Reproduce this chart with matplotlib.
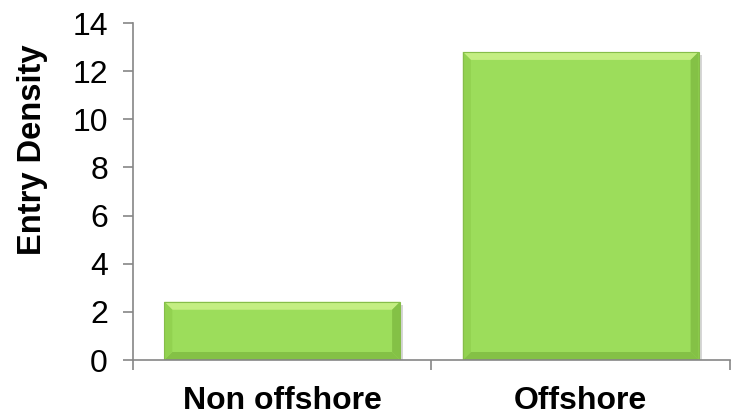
import matplotlib
matplotlib.use("Agg")
import matplotlib.pyplot as plt
from matplotlib.patches import Polygon, Rectangle

categories = ["Non offshore", "Offshore"]
values = [2.42, 12.8]
y_ticks = [0, 2, 4, 6, 8, 10, 12, 14]

plt.rcParams['font.family'] = ['Liberation Sans', 'DejaVu Sans']

fig = plt.figure(figsize=(7.36, 4.19), dpi=100)
ax = fig.add_axes([0.1807, 0.1408, 0.9918 - 0.1807, 0.945 - 0.1408])

n = len(categories)
ax.set_xlim(-0.5, n - 0.5)
ax.set_ylim(0, 14)

width = 0.79
main = "#9CDD5B"
light = "#C4EE82"
side = "#92D250"
dark = "#84C146"
edge = "#86BD4A"
shadow = "#D6D6D6"

fig.canvas.draw()
inv = ax.transData.inverted()
p0 = inv.transform((0, 0))
p1 = inv.transform((8, 8))
bx = p1[0] - p0[0]
by = p1[1] - p0[1]
p2 = inv.transform((3, 3))
sx = p2[0] - p0[0]
sy = p2[1] - p0[1]

for i, v in enumerate(values):
    x0 = i - width / 2
    x1 = i + width / 2
    ax.add_patch(Rectangle((x0 + sx, 0), width, v - sy, facecolor=shadow, edgecolor='none', zorder=1.5))
    ax.add_patch(Rectangle((x0, 0), width, v, facecolor=main, edgecolor='none', zorder=2))
    ax.add_patch(Polygon([(x0, v), (x1, v), (x1 - bx, v - by), (x0 + bx, v - by)],
                         closed=True, facecolor=light, edgecolor='none', zorder=3))
    ax.add_patch(Polygon([(x0, 0), (x1, 0), (x1 - bx, by), (x0 + bx, by)],
                         closed=True, facecolor=dark, edgecolor='none', zorder=3))
    ax.add_patch(Polygon([(x0, 0), (x0, v), (x0 + bx, v - by), (x0 + bx, by)],
                         closed=True, facecolor=side, edgecolor='none', zorder=3))
    ax.add_patch(Polygon([(x1, 0), (x1, v), (x1 - bx, v - by), (x1 - bx, by)],
                         closed=True, facecolor=dark, edgecolor='none', zorder=3))
    ax.add_patch(Rectangle((x0, 0), width, v, facecolor='none', edgecolor=edge, lw=0.8, zorder=4))

for s in ['top', 'right']:
    ax.spines[s].set_visible(False)
for s in ['left', 'bottom']:
    ax.spines[s].set_color('#868686')
    ax.spines[s].set_linewidth(1.2)
    ax.spines[s].set_zorder(5)

ax.set_yticks(y_ticks)
ax.set_yticklabels([str(t) for t in y_ticks], fontsize=23)
ax.tick_params(axis='y', direction='out', length=7, width=1.2, color='#868686', pad=11)

ax.set_xticks([i for i in range(n)])
ax.set_xticklabels(categories, fontsize=23, fontweight='bold')
ax.tick_params(axis='x', length=0, pad=19)
ax.set_xticks([i - 0.5 for i in range(n + 1)], minor=True)
ax.tick_params(axis='x', which='minor', direction='out', length=7, width=1.2, color='#868686')

ax.set_ylabel("Entry Density", fontsize=23.5, fontweight='bold')
ax.yaxis.set_label_coords(-0.142, 0.623)

fig.savefig("out.png", dpi=100)
